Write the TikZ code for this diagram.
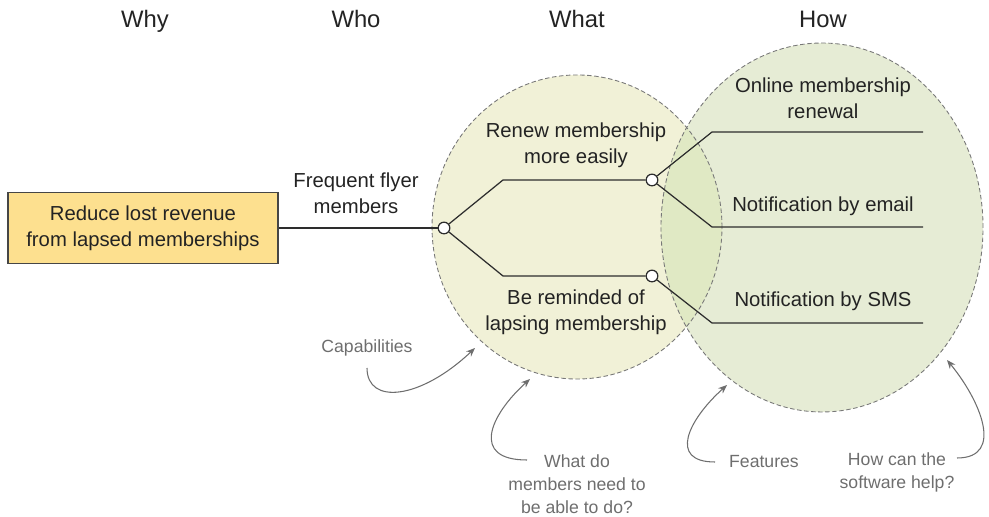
\documentclass[tikz,border=0pt]{standalone}
\usepackage{fontspec}
\setmainfont{Liberation Sans}
\usetikzlibrary{arrows.meta}
\definecolor{boxfill}{RGB}{253,224,143}
\definecolor{boxdraw}{RGB}{70,70,70}
\definecolor{whatfill}{RGB}{241,241,215}
\definecolor{howfill}{RGB}{230,236,213}
\definecolor{bothfill}{RGB}{224,233,196}
\definecolor{dashc}{RGB}{120,120,120}
\definecolor{linec}{RGB}{45,45,45}
\definecolor{textc}{RGB}{35,35,35}
\definecolor{notec}{RGB}{110,110,110}
\begin{document}
\begin{tikzpicture}[x=0.567pt,y=-0.567pt,
  title/.style={font=\fontsize{13.5}{16}\selectfont, text=textc, inner sep=0pt, anchor=base},
  txt/.style={font=\fontsize{11.5}{14.6}\selectfont, text=textc, align=center, inner sep=0pt},
  note/.style={font=\fontsize{10}{13}\selectfont, text=notec, align=center, inner sep=0pt},
  goalbox/.style={draw=boxdraw, line width=0.7pt, fill=boxfill, minimum width=153pt, minimum height=40.3pt, align=center, inner sep=0pt, font=\fontsize{11.5}{14.6}\selectfont, text=textc},
  branch/.style={draw=linec, line width=0.7pt},
  joint/.style={circle, draw=linec, line width=0.7pt, fill=white, minimum size=6.6pt, inner sep=0pt},
  ring/.style={draw=dashc, dashed, dash pattern=on 2.5pt off 1.5pt, line width=0.5pt},
  pointer/.style={draw=notec, line width=0.6pt, -{Stealth[length=5pt,width=4pt]}}
]
\useasboundingbox (0,0) rectangle (989,517);

% ellipses
\fill[whatfill] (577,227) ellipse [x radius=82.2pt, y radius=86.2pt];
\fill[howfill] (822,227.5) ellipse [x radius=91.3pt, y radius=104.6pt];
\begin{scope}
  \clip (577,227) ellipse [x radius=82.2pt, y radius=86.2pt];
  \fill[bothfill] (822,227.5) ellipse [x radius=91.3pt, y radius=104.6pt];
\end{scope}
\draw[ring] (577,227) ellipse [x radius=82.2pt, y radius=86.2pt];
\draw[ring] (822,227.5) ellipse [x radius=91.3pt, y radius=104.6pt];

% titles
\node[title] (why) at (145,28) {Why};
\node[title] (who) at (356,28) {Who};
\node[title] (what) at (577,28) {What};
\node[title] (how) at (823,28) {How};

% goal
\node[goalbox] (goal) at (143,228) {Reduce lost revenue\\from lapsed memberships};

% joints
\node[joint] (n1) at (444,228) {};
\node[joint] (n2) at (652,180) {};
\node[joint] (n3) at (652,276) {};

\coordinate (b1) at (503,180);
\coordinate (b2) at (503,276);
\coordinate (c1) at (712,132);
\coordinate (c2) at (712,227);
\coordinate (c3) at (712,323);
\coordinate (e1) at (923,132);
\coordinate (e2) at (923,227);
\coordinate (e3) at (923,323);

\draw[branch] (goal.east) -- (n1);
\draw[branch] (n1) -- (b1) -- (n2);
\draw[branch] (n1) -- (b2) -- (n3);
\draw[branch] (n2) -- (c1) -- (e1);
\draw[branch] (n2) -- (c2) -- (e2);
\draw[branch] (n3) -- (c3) -- (e3);

% texts
\node[txt] (who1) at (356,193) {Frequent flyer\\members};
\node[txt] (cap1) at (576,145) {Renew membership\\more easily};
\node[txt] (cap2) at (576,312) {Be reminded of\\lapsing membership};
\node[txt] (f1) at (823,98) {Online membership\\renewal};
\node[txt] (f2) at (823,206) {Notification by email};
\node[txt] (f3) at (823,301) {Notification by SMS};

% notes
\node[note] (capn) at (367,348) {Capabilities};
\node[note] (whatn) at (577,484) {What do\\members need to\\be able to do?};
\node[note] (featn) at (764,462) {Features};
\node[note] (hown) at (897,472) {How can the\\software help?};

\coordinate (s1) at (367,368);
\coordinate (t1) at (475,348);
\coordinate (s2) at (527,460);
\coordinate (t2) at (530,379);
\coordinate (s3) at (715,462);
\coordinate (t3) at (727,385);
\coordinate (s4) at (957,458);
\coordinate (t4) at (947,360);

\draw[pointer] (s1) .. controls (367,405) and (420,400) .. (t1);
\draw[pointer] (s2) .. controls (470,460) and (490,415) .. (t2);
\draw[pointer] (s3) .. controls (668,462) and (688,420) .. (t3);
\draw[pointer] (s4) .. controls (1005,458) and (980,400) .. (t4);
\end{tikzpicture}
\end{document}
